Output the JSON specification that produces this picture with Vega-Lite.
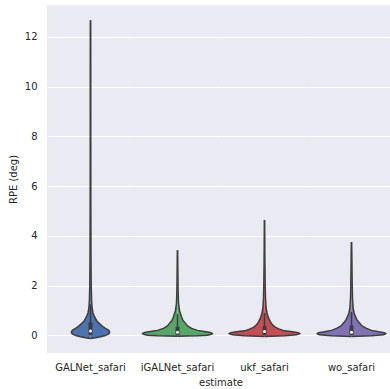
{
  "$schema": "https://vega.github.io/schema/vega-lite/v6.json",
  "padding": {"left": 8, "top": 5, "right": 0, "bottom": 0},
  "background": "white",
  "data": {"values": [
    {"estimate": "GALNet_safari", "v": -0.13, "h": 0},
    {"estimate": "GALNet_safari", "v": -0.1, "h": 5},
    {"estimate": "GALNet_safari", "v": -0.06, "h": 10},
    {"estimate": "GALNet_safari", "v": -0.02, "h": 14},
    {"estimate": "GALNet_safari", "v": 0.04, "h": 17.5},
    {"estimate": "GALNet_safari", "v": 0.1, "h": 19},
    {"estimate": "GALNet_safari", "v": 0.16, "h": 19},
    {"estimate": "GALNet_safari", "v": 0.22, "h": 17.5},
    {"estimate": "GALNet_safari", "v": 0.28, "h": 15},
    {"estimate": "GALNet_safari", "v": 0.36, "h": 12},
    {"estimate": "GALNet_safari", "v": 0.48, "h": 8.7},
    {"estimate": "GALNet_safari", "v": 0.6, "h": 6},
    {"estimate": "GALNet_safari", "v": 0.75, "h": 4},
    {"estimate": "GALNet_safari", "v": 0.9, "h": 2.5},
    {"estimate": "GALNet_safari", "v": 1.1, "h": 1.6},
    {"estimate": "GALNet_safari", "v": 1.4, "h": 1.1},
    {"estimate": "GALNet_safari", "v": 2, "h": 0.7},
    {"estimate": "GALNet_safari", "v": 3, "h": 0.5},
    {"estimate": "GALNet_safari", "v": 5, "h": 0.35},
    {"estimate": "GALNet_safari", "v": 8, "h": 0.25},
    {"estimate": "GALNet_safari", "v": 11, "h": 0.2},
    {"estimate": "GALNet_safari", "v": 12.4, "h": 0.1},
    {"estimate": "GALNet_safari", "v": 12.67, "h": 0},
    {"estimate": "iGALNet_safari", "v": -0.04, "h": 0},
    {"estimate": "iGALNet_safari", "v": -0.02, "h": 20},
    {"estimate": "iGALNet_safari", "v": 0.0, "h": 30},
    {"estimate": "iGALNet_safari", "v": 0.04, "h": 34},
    {"estimate": "iGALNet_safari", "v": 0.08, "h": 35},
    {"estimate": "iGALNet_safari", "v": 0.11, "h": 33},
    {"estimate": "iGALNet_safari", "v": 0.15, "h": 27},
    {"estimate": "iGALNet_safari", "v": 0.2, "h": 20},
    {"estimate": "iGALNet_safari", "v": 0.28, "h": 14},
    {"estimate": "iGALNet_safari", "v": 0.38, "h": 10},
    {"estimate": "iGALNet_safari", "v": 0.48, "h": 8},
    {"estimate": "iGALNet_safari", "v": 0.6, "h": 5.5},
    {"estimate": "iGALNet_safari", "v": 0.75, "h": 4},
    {"estimate": "iGALNet_safari", "v": 1.0, "h": 2},
    {"estimate": "iGALNet_safari", "v": 1.3, "h": 1},
    {"estimate": "iGALNet_safari", "v": 1.8, "h": 0.6},
    {"estimate": "iGALNet_safari", "v": 2.5, "h": 0.4},
    {"estimate": "iGALNet_safari", "v": 3.2, "h": 0.2},
    {"estimate": "iGALNet_safari", "v": 3.42, "h": 0},
    {"estimate": "ukf_safari", "v": -0.05, "h": 0},
    {"estimate": "ukf_safari", "v": -0.02, "h": 20},
    {"estimate": "ukf_safari", "v": 0.02, "h": 32},
    {"estimate": "ukf_safari", "v": 0.07, "h": 35.6},
    {"estimate": "ukf_safari", "v": 0.1, "h": 34},
    {"estimate": "ukf_safari", "v": 0.14, "h": 28},
    {"estimate": "ukf_safari", "v": 0.18, "h": 20},
    {"estimate": "ukf_safari", "v": 0.25, "h": 15},
    {"estimate": "ukf_safari", "v": 0.32, "h": 11},
    {"estimate": "ukf_safari", "v": 0.42, "h": 8},
    {"estimate": "ukf_safari", "v": 0.55, "h": 5.8},
    {"estimate": "ukf_safari", "v": 0.7, "h": 4},
    {"estimate": "ukf_safari", "v": 0.88, "h": 2.6},
    {"estimate": "ukf_safari", "v": 1.1, "h": 1.6},
    {"estimate": "ukf_safari", "v": 1.5, "h": 1},
    {"estimate": "ukf_safari", "v": 2, "h": 0.7},
    {"estimate": "ukf_safari", "v": 3, "h": 0.4},
    {"estimate": "ukf_safari", "v": 4, "h": 0.25},
    {"estimate": "ukf_safari", "v": 4.64, "h": 0},
    {"estimate": "wo_safari", "v": -0.05, "h": 0},
    {"estimate": "wo_safari", "v": -0.02, "h": 20},
    {"estimate": "wo_safari", "v": 0.02, "h": 32},
    {"estimate": "wo_safari", "v": 0.07, "h": 34.5},
    {"estimate": "wo_safari", "v": 0.1, "h": 33},
    {"estimate": "wo_safari", "v": 0.14, "h": 27},
    {"estimate": "wo_safari", "v": 0.2, "h": 20},
    {"estimate": "wo_safari", "v": 0.28, "h": 15},
    {"estimate": "wo_safari", "v": 0.38, "h": 10.5},
    {"estimate": "wo_safari", "v": 0.5, "h": 8},
    {"estimate": "wo_safari", "v": 0.62, "h": 5.5},
    {"estimate": "wo_safari", "v": 0.75, "h": 4},
    {"estimate": "wo_safari", "v": 0.9, "h": 2.6},
    {"estimate": "wo_safari", "v": 1.1, "h": 1.6},
    {"estimate": "wo_safari", "v": 1.5, "h": 1},
    {"estimate": "wo_safari", "v": 2, "h": 0.7},
    {"estimate": "wo_safari", "v": 3, "h": 0.4},
    {"estimate": "wo_safari", "v": 3.5, "h": 0.25},
    {"estimate": "wo_safari", "v": 3.75, "h": 0},
    {"estimate": "GALNet_safari", "lo": 0, "q1": 0.02, "med": 0.17, "q3": 0.52, "hi": 1.25},
    {"estimate": "iGALNet_safari", "lo": 0, "q1": 0.02, "med": 0.12, "q3": 0.35, "hi": 0.85},
    {"estimate": "ukf_safari", "lo": 0, "q1": 0.02, "med": 0.15, "q3": 0.37, "hi": 0.9},
    {"estimate": "wo_safari", "lo": 0, "q1": 0.02, "med": 0.12, "q3": 0.4, "hi": 0.95}
  ]},
  "facet": {
    "column": {
      "field": "estimate",
      "type": "nominal",
      "sort": ["GALNet_safari", "iGALNet_safari", "ukf_safari", "wo_safari"],
      "title": "estimate",
      "header": {
        "titleOrient": "bottom",
        "labelOrient": "bottom",
        "labelPadding": 10,
        "titlePadding": -5,
        "labelFont": "DejaVu Sans",
        "labelFontSize": 10,
        "labelColor": "#262626",
        "titleFont": "DejaVu Sans",
        "titleFontSize": 10,
        "titleFontWeight": "normal",
        "titleColor": "#262626"
      }
    }
  },
  "spacing": 0,
  "spec": {
    "width": 87,
    "height": 348,
    "resolve": {"scale": {"x": "independent"}},
    "layer": [
      {
        "transform": [{"filter": "isValid(datum.h)"}],
        "mark": {"type": "area", "orient": "horizontal"},
        "encoding": {
          "y": {
            "field": "v",
            "type": "quantitative",
            "title": "RPE (deg)",
            "scale": {"domain": [-0.71, 13.28], "nice": false, "zero": false},
            "axis": {"values": [0, 2, 4, 6, 8, 10, 12]}
          },
          "x": {"field": "h", "type": "quantitative", "stack": "zero", "impute": null, "scale": {"domain": [-43.5, 43.5], "nice": false, "zero": false}, "axis": null},
          "color": {
            "field": "estimate",
            "type": "nominal",
            "scale": {"domain": ["GALNet_safari", "iGALNet_safari", "ukf_safari", "wo_safari"], "range": ["#4C72B0", "#55A868", "#C44E52", "#8172B3"]},
            "legend": null
          }
        }
      },
      {
        "transform": [{"filter": "isValid(datum.h)"}],
        "mark": {"type": "area", "orient": "horizontal"},
        "encoding": {
          "y": {"field": "v", "type": "quantitative"},
          "x": {"field": "h", "type": "quantitative", "stack": "zero", "impute": null, "scale": {"domain": [-43.5, 43.5], "nice": false, "zero": false, "reverse": true}, "axis": null},
          "color": {"field": "estimate", "type": "nominal", "legend": null}
        }
      },
      {
        "transform": [{"filter": "isValid(datum.h)"}],
        "mark": {"type": "line", "stroke": "#3d3d3d", "strokeWidth": 1.5, "strokeJoin": "round"},
        "encoding": {
          "y": {"field": "v", "type": "quantitative"},
          "x": {"field": "h", "type": "quantitative", "scale": {"domain": [-43.5, 43.5], "nice": false, "zero": false}, "axis": null},
          "order": {"field": "v", "type": "quantitative"}
        }
      },
      {
        "transform": [{"filter": "isValid(datum.h)"}],
        "mark": {"type": "line", "stroke": "#3d3d3d", "strokeWidth": 1.5, "strokeJoin": "round"},
        "encoding": {
          "y": {"field": "v", "type": "quantitative"},
          "x": {"field": "h", "type": "quantitative", "scale": {"domain": [-43.5, 43.5], "nice": false, "zero": false, "reverse": true}, "axis": null},
          "order": {"field": "v", "type": "quantitative"}
        }
      },
      {
        "transform": [{"filter": "isValid(datum.q1)"}],
        "mark": {"type": "rule", "stroke": "#3d3d3d", "strokeWidth": 1.5},
        "encoding": {
          "y": {"field": "lo", "type": "quantitative"},
          "y2": {"field": "hi"}
        }
      },
      {
        "transform": [{"filter": "isValid(datum.q1)"}],
        "mark": {"type": "rule", "stroke": "#3d3d3d", "strokeWidth": 4},
        "encoding": {
          "y": {"field": "q1", "type": "quantitative"},
          "y2": {"field": "q3"}
        }
      },
      {
        "transform": [{"filter": "isValid(datum.q1)"}],
        "mark": {"type": "point", "filled": true, "fill": "white", "stroke": null, "size": 9, "opacity": 1},
        "encoding": {
          "y": {"field": "med", "type": "quantitative"}
        }
      }
    ]
  },
  "config": {
    "view": {"fill": "#EAEAF2", "stroke": null},
    "axis": {
      "domain": false,
      "ticks": false,
      "grid": true,
      "gridColor": "#FFFFFF",
      "gridWidth": 1,
      "labelFont": "DejaVu Sans",
      "labelFontSize": 10,
      "labelColor": "#262626",
      "labelPadding": 10,
      "titleFont": "DejaVu Sans",
      "titleFontSize": 10,
      "titleFontWeight": "normal",
      "titleColor": "#262626",
      "titlePadding": 6
    }
  }
}
